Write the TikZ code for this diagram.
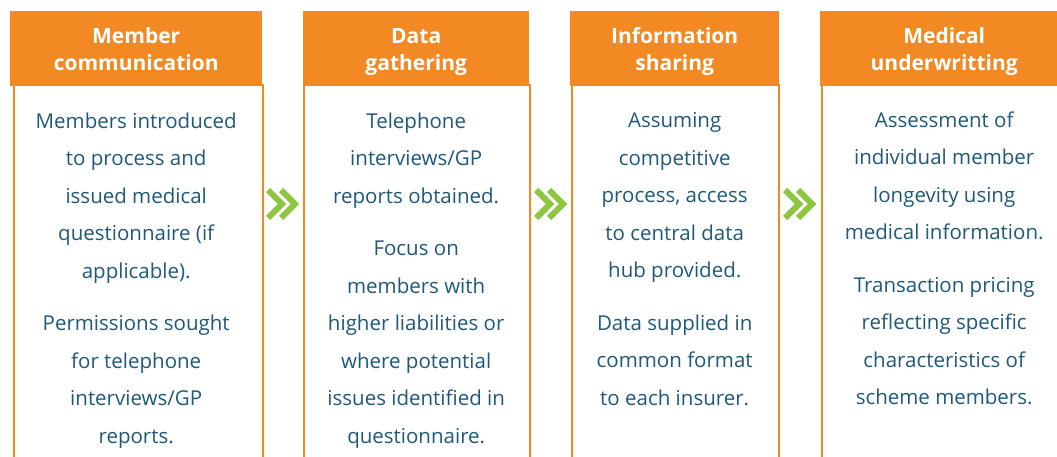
\documentclass[tikz,border=0pt]{standalone}
\usepackage{fontspec}
\setmainfont{Open Sans}
\usetikzlibrary{positioning}
\definecolor{headorange}{RGB}{242,137,34}
\definecolor{bodyblue}{RGB}{31,89,122}
\definecolor{chevgreen}{RGB}{141,198,63}
\tikzset{
  head/.style={fill=headorange, text=white, font=\fontsize{21}{27}\selectfont\bfseries, align=center, anchor=north west, minimum height=75pt, text height=44pt, text depth=0pt, inner sep=0pt},
  frame/.style={draw=headorange, line width=2pt, anchor=north west, minimum height=400pt, inner sep=0pt},
  body/.style={text=bodyblue, font=\fontsize{20.5}{37.5}\selectfont, align=center, inner sep=0pt},
  chev/.style={draw=chevgreen, line width=6pt, miter limit=4},
}

\begin{document}
\begin{tikzpicture}[x=1pt,y=-1pt]
\useasboundingbox (0,0) rectangle (1057,457);
\clip (0,0) rectangle (1057,457);
\node[frame, minimum width=249pt] (memfr) at (12.5,84) {};
\node[frame, minimum width=225.5pt] (datfr) at (303,84) {};
\node[frame, minimum width=206.5pt] (inffr) at (571,84) {};
\node[frame, minimum width=260pt] (medfr) at (820.5,84) {};
\node[head, minimum width=252pt] (memhd) at (10,11) {Member\\communication};
\node[head, minimum width=226pt] (dathd) at (303,11) {Data\\gathering};
\node[head, minimum width=209pt] (infhd) at (570,11) {Information\\sharing};
\node[head, minimum width=248pt] (medhd) at (820,11) {Medical\\underwritting};
\node[body, below=26pt of memhd] (memtx) {Members introduced\\to process and\\issued medical\\questionnaire (if\\applicable).\\[15pt]Permissions sought\\for telephone\\interviews/GP\\reports.};
\node[body, below=26pt of dathd] (dattx) {Telephone\\interviews/GP\\reports obtained.\\[15pt]Focus on\\members with\\higher liabilities or\\where potential\\issues identified in\\questionnaire.};
\node[body, below=26pt of infhd] (inftx) {Assuming\\competitive\\process, access\\to central data\\hub provided.\\[15pt]Data supplied in\\common format\\to each insurer.};
\node[body, below=25pt of medhd] (medtx) {Assessment of\\individual member\\longevity using\\medical information.\\[15pt]Transaction pricing\\reflecting specific\\characteristics of\\scheme members.};
\foreach \c in {282,550,799}{
  \draw[chev] (\c-14,190) -- (\c,204) -- (\c-14,218);
  \draw[chev] (\c-1,190) -- (\c+13,204) -- (\c-1,218);
}
\end{tikzpicture}
\end{document}
